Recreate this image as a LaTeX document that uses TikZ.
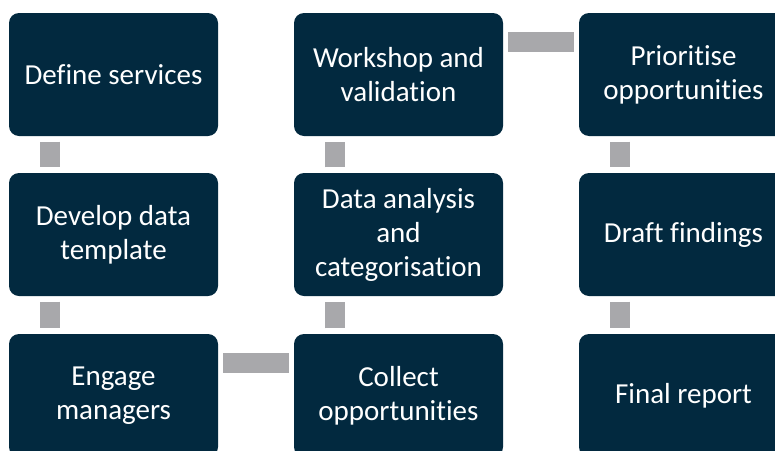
\documentclass[tikz,border=0pt]{standalone}
\usepackage{fontspec}
\setmainfont{Carlito}[Ligatures=NoCommon]
\usepackage{tikz}

\definecolor{navy}{HTML}{02293F}
\definecolor{linkgrey}{HTML}{A8A8AB}

\begin{document}
\begin{tikzpicture}[x=1pt,y=-1pt,
    stage/.style={rectangle, fill=navy, rounded corners=10pt, inner sep=0pt,
      minimum width=209pt, minimum height=123pt, text=white, align=center,
      font=\fontsize{29}{34}\selectfont},
    link/.style={draw=linkgrey, line width=20pt, line cap=butt,
      shorten <=5.5pt, shorten >=5.5pt}]
  \useasboundingbox (0,0) rectangle (775,450);
  \begin{scope}
  \clip (0,0) rectangle (775,450);
  % first column, top to bottom
  \node[stage] (define)  at (113.5,74.5)  {Define services};
  \node[stage] (template) at (113.5,234.5) {Develop data\\template};
  \node[stage] (engage)  at (113.5,395.5) {Engage\\managers};
  % second column, bottom to top
  \node[stage] (collect) at (398.5,395.5) {Collect\\opportunities};
  \node[stage] (analysis) at (398.5,234.5) {Data analysis\\and\\categorisation};
  \node[stage] (workshop) at (398.5,74.5)  {Workshop and\\validation};
  % third column, top to bottom
  \node[stage] (prioritise) at (683.5,74.5)  {Prioritise\\opportunities};
  \node[stage] (draft)   at (683.5,234.5) {Draft findings};
  \node[stage] (final)   at (683.5,395.5) {Final report};

  % grey links between the stages
  \draw[link] ([xshift=-63.5pt]define.south) -- ([xshift=-63.5pt]template.north);
  \draw[link] ([xshift=-63.5pt]template.south) -- ([xshift=-63.5pt]engage.north);
  \draw[link, shorten <=5pt, shorten >=5pt] ([yshift=32.5pt]engage.east) -- ([yshift=32.5pt]collect.west);
  \draw[link] ([xshift=-63.5pt]collect.north) -- ([xshift=-63.5pt]analysis.south);
  \draw[link] ([xshift=-63.5pt]analysis.north) -- ([xshift=-63.5pt]workshop.south);
  \draw[link, shorten <=5pt, shorten >=5pt] ([yshift=32.5pt]workshop.east) -- ([yshift=32.5pt]prioritise.west);
  \draw[link] ([xshift=-63.5pt]prioritise.south) -- ([xshift=-63.5pt]draft.north);
  \draw[link] ([xshift=-63.5pt]draft.south) -- ([xshift=-63.5pt]final.north);
  \end{scope}
\end{tikzpicture}
\end{document}
